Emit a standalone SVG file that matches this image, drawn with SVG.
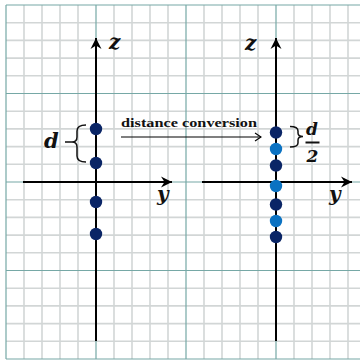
<svg xmlns="http://www.w3.org/2000/svg" width="360" height="360" viewBox="0 0 360 360">
<style>
.minor{stroke:#d2d6d6;stroke-width:1.6;fill:none}
.major{stroke:#76a8a6;stroke-width:1.2;fill:none}
.axis{stroke:#000;stroke-width:2;fill:none}
.lbl{font-family:"DejaVu Serif","Liberation Serif",serif;font-weight:bold;font-style:italic;fill:#111}
.dk{fill:#0a2566}
.lt{fill:#0b72c2}
.brace{stroke:#111;stroke-width:1.5;fill:none}
</style>
<defs>
<marker id="ah" viewBox="-11 -6 12 12" refX="0" refY="0" markerWidth="12" markerHeight="12" markerUnits="userSpaceOnUse" orient="auto">
<path d="M0,0 L-11,-5.5 L-7.5,0 L-11,5.5 Z" fill="#000"/>
</marker>
<marker id="oa" viewBox="-7 -5 8 10" refX="0" refY="0" markerWidth="8" markerHeight="10" markerUnits="userSpaceOnUse" orient="auto">
<path d="M-6,-4 L0,0 L-6,4" fill="none" stroke="#000" stroke-width="1.1"/>
</marker>
</defs>
<rect width="360" height="360" fill="#fff"/>
<g id="grid">
<path class="minor" d="M24,5V359M42,5V359M60,5V359M78,5V359M114,5V359M132,5V359M150,5V359M168,5V359M204,5V359M222,5V359M240,5V359M258,5V359M294,5V359M312,5V359M330,5V359M348,5V359"/>
<path class="minor" d="M6,22.7H360M6,40.4H360M6,58.1H360M6,75.8H360M6,111.2H360M6,128.9H360M6,146.6H360M6,164.3H360M6,199.7H360M6,217.4H360M6,235.1H360M6,252.8H360M6,288.2H360M6,305.9H360M6,323.6H360M6,341.3H360"/>
<path class="major" d="M6,5V359M96,5V359M186,5V359M276,5V359M6,5H360M6,93.5H360M6,182H360M6,270.5H360M6,359H360"/>
</g>
<g id="connectors">
<line class="axis" x1="96" y1="341" x2="96" y2="38" marker-end="url(#ah)"/>
<line class="axis" x1="23" y1="182" x2="172" y2="182" marker-end="url(#ah)"/>
<line class="axis" x1="276" y1="341" x2="276" y2="38" marker-end="url(#ah)"/>
<line class="axis" x1="202" y1="182" x2="352" y2="182" marker-end="url(#ah)"/>
<line x1="121" y1="137" x2="261" y2="137" stroke="#000" stroke-width="1.1" marker-end="url(#oa)"/>
</g>
<g id="conversion-label">
<text x="121" y="127" font-family="'Liberation Serif',serif" font-weight="bold" font-size="13" fill="#111" textLength="136" lengthAdjust="spacingAndGlyphs">distance conversion</text>
</g>
<g id="left-axes-labels">
<text class="lbl" x="109" y="49" font-size="20">z</text>
<text class="lbl" x="157" y="201" font-size="20">y</text>
</g>
<g id="right-axes-labels">
<text class="lbl" x="245" y="50" font-size="20">z</text>
<text class="lbl" x="329" y="201" font-size="20">y</text>
</g>
<g id="left-dots">
<circle class="dk" cx="96" cy="129" r="6.2"/>
<circle class="dk" cx="96" cy="163" r="6.2"/>
<circle class="dk" cx="96" cy="202" r="6.2"/>
<circle class="dk" cx="96" cy="234" r="6.2"/>
</g>
<g id="right-dots">
<circle class="dk" cx="276" cy="132.5" r="6.2"/>
<circle class="lt" cx="276" cy="149" r="6.2"/>
<circle class="dk" cx="276" cy="165.5" r="6.2"/>
<circle class="lt" cx="276" cy="186" r="6.2"/>
<circle class="dk" cx="276" cy="204.5" r="6.2"/>
<circle class="lt" cx="276" cy="221" r="6.2"/>
<circle class="dk" cx="276" cy="237" r="6.2"/>
</g>
<g id="left-brace">
<path class="brace" d="M86,125 Q77,125 77,131 L77,137 Q77,142 72,142 L65,142 M72,142 Q77,142 77,147 L77,156 Q77,162 86,162"/>
<text class="lbl" x="44" y="148" font-size="21">d</text>
</g>
<g id="right-brace">
<path class="brace" d="M290,126.5 Q298,126.5 298,131 L298,133 Q298,136.5 303,136.5 M303,136.5 Q298,136.5 298,140 L298,143 Q298,147 290,147"/>
<text class="lbl" x="306" y="135" font-size="17">d</text>
<line x1="305.5" y1="142.5" x2="319.5" y2="142.5" stroke="#111" stroke-width="2"/>
<text class="lbl" x="306.5" y="162" font-size="17" font-style="normal">2</text>
</g>
</svg>
